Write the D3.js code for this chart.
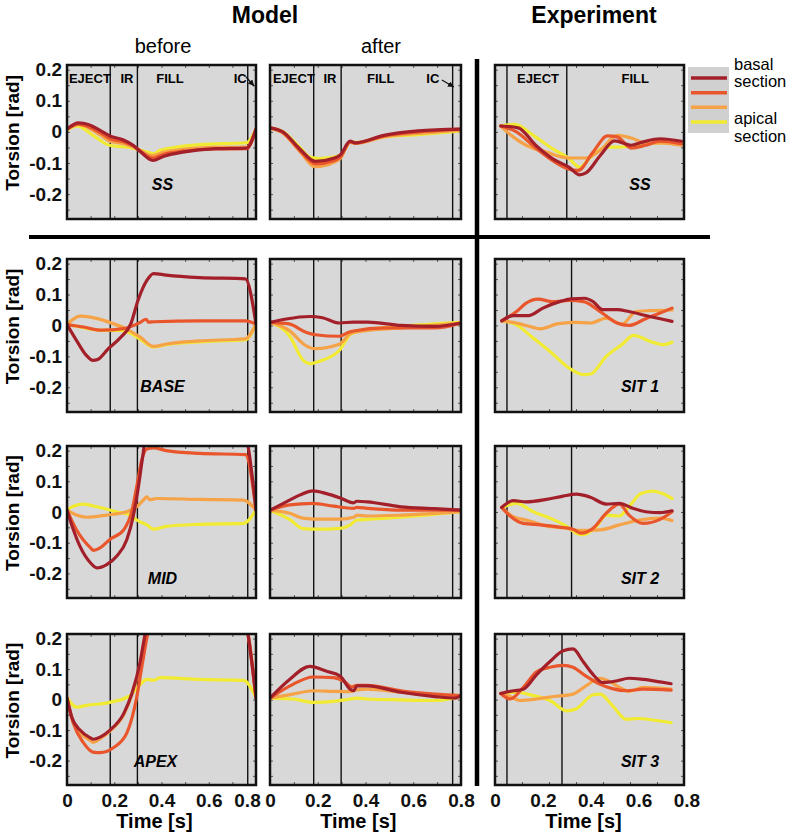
<!DOCTYPE html>
<html>
<head>
<meta charset="utf-8">
<script src="https://cdn.jsdelivr.net/npm/d3@7"></script>
<style>
  body { margin: 0; background: #fff; }
  svg { display: block; font-family: "Liberation Sans", Arial, sans-serif; }
</style>
</head>
<body>
<svg width="789" height="838"></svg>
<script>
// colours: basal -> apical
var sectionColors = ["#a3202a", "#e9562c", "#f6a247", "#f1ea33"];

// tick values / labels
var yTickValues = [0.2, 0.1, 0, -0.1, -0.2];
var xTickValues = [0, 0.2, 0.4, 0.6, 0.8];
var modelPhaseTimes = [0.183, 0.298, 0.765];
var expPhaseTimes = [[0.05, 0.30], [0.05, 0.32], [0.05, 0.32], [0.05, 0.28]];
var rowLabelsModel = ["SS", "BASE", "MID", "APEX"];
var rowLabelsExp = ["SS", "SIT 1", "SIT 2", "SIT 3"];

// [time s, torsion rad] per section: basal, mid-basal, mid-apical, apical
var ssBefore = [
  [[0,0.009],[0.048,0.029],[0.09,0.024],[0.14,0.005],[0.182,-0.013],[0.239,-0.026],[0.28,-0.043],[0.31,-0.063],[0.363,-0.092],[0.41,-0.078],[0.49,-0.065],[0.63,-0.054],[0.76,-0.052],[0.8,0.009]],
  [[0,0.009],[0.048,0.025],[0.14,-0.002],[0.182,-0.022],[0.24,-0.032],[0.28,-0.045],[0.31,-0.062],[0.363,-0.084],[0.41,-0.072],[0.49,-0.062],[0.63,-0.055],[0.76,-0.054],[0.8,0.009]],
  [[0,0.007],[0.048,0.024],[0.14,-0.009],[0.182,-0.03],[0.24,-0.038],[0.28,-0.049],[0.31,-0.06],[0.36,-0.076],[0.41,-0.065],[0.49,-0.056],[0.63,-0.05],[0.76,-0.049],[0.8,0.009]],
  [[0,0.005],[0.041,0.019],[0.11,-0.011],[0.18,-0.043],[0.28,-0.052],[0.34,-0.065],[0.37,-0.07],[0.39,-0.06],[0.56,-0.041],[0.76,-0.035],[0.8,0.009]]
];
var ssAfter = [
  [[0,0.013],[0.054,0],[0.124,-0.054],[0.19,-0.095],[0.27,-0.084],[0.294,-0.074],[0.336,-0.03],[0.357,-0.035],[0.477,-0.011],[0.62,0.003],[0.8,0.009]],
  [[0,0.013],[0.054,-0.002],[0.124,-0.059],[0.19,-0.103],[0.27,-0.092],[0.294,-0.081],[0.336,-0.032],[0.357,-0.036],[0.477,-0.013],[0.62,0],[0.8,0.009]],
  [[0,0.012],[0.054,-0.004],[0.124,-0.062],[0.19,-0.112],[0.27,-0.097],[0.294,-0.086],[0.336,-0.034],[0.357,-0.037],[0.477,-0.016],[0.62,-0.005],[0.8,0.006]],
  [[0,0.012],[0.054,0.001],[0.124,-0.049],[0.167,-0.081],[0.21,-0.086],[0.294,-0.076],[0.336,-0.032],[0.357,-0.034],[0.477,-0.016],[0.62,-0.009],[0.8,0.003]]
];
var ssExp = [
  [[0.024,0.019],[0.097,0.013],[0.17,-0.043],[0.24,-0.086],[0.31,-0.114],[0.354,-0.138],[0.38,-0.132],[0.44,-0.076],[0.5,-0.029],[0.57,-0.043],[0.62,-0.032],[0.69,-0.022],[0.78,-0.03]],
  [[0.024,0.019],[0.09,0],[0.17,-0.052],[0.24,-0.092],[0.305,-0.119],[0.347,-0.124],[0.41,-0.065],[0.47,-0.013],[0.51,-0.016],[0.57,-0.052],[0.63,-0.043],[0.69,-0.03],[0.78,-0.038]],
  [[0.024,0.019],[0.076,-0.016],[0.13,-0.043],[0.215,-0.065],[0.31,-0.084],[0.38,-0.084],[0.44,-0.059],[0.51,-0.011],[0.58,-0.022],[0.63,-0.038],[0.69,-0.035],[0.78,-0.043]],
  [[0.024,0.019],[0.083,0.024],[0.16,-0.011],[0.24,-0.054],[0.31,-0.086],[0.354,-0.114],[0.396,-0.084],[0.465,-0.049],[0.52,-0.049],[0.59,-0.043],[0.69,-0.035],[0.78,-0.035]]
];
var baseBefore = [
  [[0,0.003],[0.04,-0.048],[0.08,-0.095],[0.11,-0.113],[0.13,-0.11],[0.175,-0.075],[0.225,-0.04],[0.27,0.005],[0.3,0.08],[0.34,0.148],[0.366,0.168],[0.42,0.163],[0.56,0.155],[0.755,0.151],[0.8,0.005]],
  [[0,0.003],[0.07,-0.005],[0.14,-0.015],[0.24,-0.01],[0.31,0.01],[0.335,0.02],[0.345,0.011],[0.37,0.012],[0.56,0.015],[0.755,0.015],[0.8,0.005]],
  [[0,0.003],[0.055,0.03],[0.1,0.027],[0.18,0.01],[0.25,-0.011],[0.31,-0.038],[0.366,-0.068],[0.42,-0.06],[0.56,-0.05],[0.755,-0.043],[0.8,0.005]],
  [[0,0.003],[0.055,-0.005],[0.14,-0.016],[0.225,-0.016],[0.27,-0.025],[0.31,-0.045],[0.366,-0.07],[0.42,-0.062],[0.56,-0.053],[0.755,-0.046],[0.8,0.005]]
];
var baseAfter = [
  [[0,0.01],[0.068,0.021],[0.167,0.029],[0.22,0.025],[0.29,0.008],[0.35,0.011],[0.41,0.011],[0.55,0],[0.69,-0.003],[0.8,0.008]],
  [[0,0.01],[0.08,0.005],[0.15,-0.022],[0.19,-0.03],[0.29,-0.035],[0.33,-0.022],[0.35,-0.018],[0.48,-0.008],[0.69,-0.008],[0.8,0.008]],
  [[0,0.01],[0.08,-0.016],[0.15,-0.065],[0.19,-0.075],[0.29,-0.061],[0.34,-0.025],[0.41,-0.016],[0.55,-0.008],[0.8,0.008]],
  [[0,0.01],[0.08,-0.032],[0.14,-0.113],[0.167,-0.124],[0.21,-0.115],[0.29,-0.081],[0.34,-0.027],[0.41,-0.014],[0.55,-0.003],[0.8,0.01]]
];
var sit1 = [
  [[0.028,0.015],[0.076,0.032],[0.14,0.032],[0.2,0.056],[0.27,0.077],[0.32,0.086],[0.375,0.088],[0.41,0.077],[0.45,0.051],[0.51,0.051],[0.56,0.045],[0.63,0.032],[0.74,0.013]],
  [[0.028,0.015],[0.09,0.045],[0.13,0.072],[0.18,0.085],[0.24,0.077],[0.31,0.081],[0.37,0.077],[0.44,0.045],[0.51,0.008],[0.56,0],[0.63,0.022],[0.69,0.04],[0.74,0.056]],
  [[0.028,0.015],[0.076,0.01],[0.13,0],[0.19,-0.011],[0.26,0.005],[0.33,0.01],[0.4,0.008],[0.465,0.024],[0.53,0.004],[0.59,0.045],[0.65,0.048],[0.74,0.05]],
  [[0.028,0.015],[0.09,0.002],[0.16,-0.041],[0.23,-0.084],[0.31,-0.138],[0.37,-0.159],[0.4,-0.157],[0.465,-0.1],[0.53,-0.062],[0.58,-0.032],[0.65,-0.052],[0.7,-0.062],[0.74,-0.054]]
];
var midBefore = [
  [[0,0.006],[0.027,-0.058],[0.055,-0.112],[0.1,-0.166],[0.126,-0.182],[0.168,-0.171],[0.21,-0.144],[0.253,-0.09],[0.28,-0.015],[0.3,0.071],[0.32,0.178],[0.335,0.25],[0.5,0.3],[0.74,0.28],[0.765,0.22],[0.8,0.006]],
  [[0,0.006],[0.04,-0.058],[0.1,-0.117],[0.112,-0.125],[0.14,-0.117],[0.18,-0.09],[0.24,-0.058],[0.274,0.001],[0.295,0.082],[0.316,0.168],[0.338,0.205],[0.366,0.209],[0.42,0.2],[0.56,0.191],[0.755,0.187],[0.8,0.006]],
  [[0,0.006],[0.04,-0.01],[0.083,-0.017],[0.168,-0.01],[0.253,0.001],[0.295,0.017],[0.323,0.039],[0.338,0.049],[0.35,0.04],[0.38,0.044],[0.56,0.041],[0.747,0.039],[0.8,0.006]],
  [[0,0.006],[0.027,0.019],[0.07,0.026],[0.126,0.017],[0.21,0.001],[0.267,-0.01],[0.295,-0.026],[0.338,-0.042],[0.366,-0.056],[0.42,-0.047],[0.56,-0.04],[0.747,-0.037],[0.8,0.006]]
];
var midAfter = [
  [[0,0.006],[0.068,0.033],[0.124,0.055],[0.18,0.069],[0.237,0.06],[0.294,0.046],[0.35,0.03],[0.364,0.035],[0.407,0.033],[0.548,0.017],[0.69,0.011],[0.8,0.006]],
  [[0,0.006],[0.082,0.023],[0.18,0.028],[0.266,0.019],[0.35,0.012],[0.364,0.015],[0.407,0.012],[0.548,0.006],[0.8,0.006]],
  [[0,0.006],[0.082,-0.004],[0.138,-0.02],[0.195,-0.023],[0.294,-0.023],[0.35,-0.017],[0.364,-0.01],[0.407,-0.013],[0.548,-0.01],[0.8,0.001]],
  [[0,0.006],[0.082,-0.024],[0.138,-0.054],[0.195,-0.056],[0.294,-0.053],[0.336,-0.042],[0.364,-0.026],[0.407,-0.024],[0.548,-0.017],[0.8,0.001]]
];
var sit2 = [
  [[0.028,0.015],[0.076,0.037],[0.13,0.033],[0.215,0.041],[0.285,0.052],[0.34,0.058],[0.396,0.049],[0.465,0.026],[0.52,0.028],[0.576,0.012],[0.63,0.001],[0.69,-0.002],[0.74,0.004]],
  [[0.028,0.015],[0.063,-0.013],[0.118,-0.037],[0.19,-0.042],[0.27,-0.049],[0.326,-0.056],[0.36,-0.069],[0.41,-0.053],[0.465,-0.004],[0.52,0.026],[0.56,-0.01],[0.62,-0.037],[0.69,-0.024],[0.74,0.001]],
  [[0.028,0.015],[0.076,-0.015],[0.13,-0.026],[0.215,-0.045],[0.3,-0.053],[0.354,-0.06],[0.44,-0.058],[0.52,-0.042],[0.604,-0.026],[0.69,-0.02],[0.74,-0.028]],
  [[0.028,0.015],[0.09,0.028],[0.16,0.001],[0.23,-0.02],[0.3,-0.047],[0.34,-0.069],[0.37,-0.074],[0.424,-0.047],[0.465,-0.01],[0.52,-0.013],[0.56,0.017],[0.61,0.06],[0.66,0.068],[0.7,0.06],[0.74,0.044]]
];
var apexBefore = [
  [[0,0.005],[0.02,-0.057],[0.055,-0.1],[0.1,-0.126],[0.11,-0.13],[0.14,-0.123],[0.182,-0.1],[0.24,-0.046],[0.274,0.018],[0.31,0.125],[0.325,0.19],[0.34,0.25],[0.5,0.3],[0.75,0.28],[0.765,0.22],[0.8,0.005]],
  [[0,0.005],[0.027,-0.078],[0.07,-0.142],[0.11,-0.172],[0.14,-0.174],[0.196,-0.158],[0.253,-0.11],[0.295,0.007],[0.323,0.136],[0.345,0.22],[0.5,0.3],[0.75,0.28],[0.765,0.22],[0.8,0.005]],
  [[0,0.005],[0.02,-0.06],[0.055,-0.108],[0.1,-0.135],[0.11,-0.14],[0.14,-0.128],[0.182,-0.103],[0.24,-0.05],[0.274,0.015],[0.31,0.12],[0.325,0.19],[0.34,0.24],[0.5,0.3],[0.75,0.26],[0.77,0.2],[0.8,0.005]],
  [[0,0.007],[0.041,-0.025],[0.083,-0.019],[0.182,-0.009],[0.267,0.013],[0.31,0.05],[0.338,0.066],[0.366,0.063],[0.394,0.072],[0.56,0.066],[0.747,0.063],[0.8,0.007]]
];
var apexAfter = [
  [[0,0.005],[0.082,0.066],[0.167,0.109],[0.237,0.093],[0.294,0.077],[0.336,0.034],[0.35,0.029],[0.364,0.045],[0.407,0.045],[0.548,0.024],[0.69,0.01],[0.774,0.005],[0.8,0.013]],
  [[0,0.005],[0.096,0.05],[0.18,0.074],[0.266,0.072],[0.308,0.061],[0.343,0.042],[0.364,0.047],[0.407,0.047],[0.548,0.029],[0.69,0.018],[0.8,0.013]],
  [[0,0.005],[0.096,0.018],[0.18,0.029],[0.266,0.027],[0.336,0.026],[0.364,0.032],[0.407,0.034],[0.548,0.024],[0.69,0.015],[0.8,0.013]],
  [[0,0.005],[0.096,0.002],[0.18,-0.009],[0.266,-0.006],[0.336,0.002],[0.364,0.005],[0.407,0.002],[0.548,-0.001],[0.69,-0.003],[0.8,0.01]]
];
var sit3 = [
  [[0.024,0.02],[0.063,0.027],[0.118,0.034],[0.174,0.082],[0.23,0.125],[0.285,0.16],[0.326,0.166],[0.368,0.125],[0.41,0.082],[0.45,0.056],[0.507,0.061],[0.56,0.07],[0.62,0.066],[0.69,0.058],[0.736,0.052]],
  [[0.024,0.02],[0.063,0.002],[0.118,0.04],[0.174,0.091],[0.23,0.106],[0.285,0.112],[0.326,0.106],[0.38,0.077],[0.44,0.05],[0.49,0.036],[0.55,0.029],[0.62,0.034],[0.736,0.031]],
  [[0.024,0.02],[0.063,0.01],[0.104,-0.003],[0.174,0.002],[0.243,0.01],[0.326,0.018],[0.38,0.045],[0.44,0.07],[0.47,0.063],[0.52,0.04],[0.56,0.027],[0.62,0.04],[0.736,0.034]],
  [[0.024,0.02],[0.09,0.024],[0.16,0.013],[0.23,-0.003],[0.3,-0.037],[0.34,-0.03],[0.41,0.016],[0.44,0.018],[0.49,-0.019],[0.55,-0.065],[0.6,-0.062],[0.66,-0.067],[0.736,-0.076]]
];

var svg = d3.select("svg");

// layout
var cols = [ {x0: 67, x1: 256, max: 0.8}, {x0: 270, x1: 461, max: 0.8}, {x0: 495, x1: 684, max: 0.79} ];
var rows = [ {y0: 65, y1: 219}, {y0: 259, y1: 412}, {y0: 446, y1: 598}, {y0: 634, y1: 785} ];
var labelDrop = [125, 133, 138, 133];
var grid = [
  [ssBefore, ssAfter, ssExp],
  [baseBefore, baseAfter, sit1],
  [midBefore, midAfter, sit2],
  [apexBefore, apexAfter, sit3]
];

var defs = svg.append("defs");
defs.append("marker")
    .attr("id", "arrow")
    .attr("markerUnits", "userSpaceOnUse")
    .attr("markerWidth", 7).attr("markerHeight", 7)
    .attr("refX", 6).attr("refY", 3)
    .attr("orient", "auto")
  .append("path")
    .attr("d", "M0,0 L6,3 L0,6 Z")
    .attr("fill", "#111");

var fmt = function(d) { return String(d); };

grid.forEach(function(rowData, ri) {
  var r = rows[ri];
  var y = d3.scaleLinear().domain([-0.28, 0.215]).range([r.y1, r.y0]);

  rowData.forEach(function(series, ci) {
    var c = cols[ci];
    var x = d3.scaleLinear().domain([0, c.max]).range([c.x0, c.x1]);
    var g = svg.append("g");
    var clipId = "clip" + ri + "_" + ci;

    defs.append("clipPath").attr("id", clipId)
      .append("rect")
      .attr("x", c.x0).attr("y", r.y0)
      .attr("width", c.x1 - c.x0).attr("height", r.y1 - r.y0);

    g.append("rect")
      .attr("x", c.x0).attr("y", r.y0)
      .attr("width", c.x1 - c.x0).attr("height", r.y1 - r.y0)
      .attr("fill", "#d8d8d8");

    // inner tick marks on all four sides
    var tickX = ci == 2 ? d3.scaleLinear().domain([0, 0.7]).range([c.x0, c.x1]) : x;
    var yt = d3.range(-0.25, 0.21, 0.05);
    var xt = d3.range(0.1, ci == 2 ? 0.65 : 0.75, 0.1);
    [[d3.axisLeft(y), c.x0], [d3.axisRight(y), c.x1]].forEach(function(a) {
      g.append("g").attr("transform", "translate(" + a[1] + ",0)")
        .call(a[0].tickValues(yt).tickSize(-3).tickFormat(""))
        .call(function(s) { s.select(".domain").remove(); s.selectAll("line").attr("stroke", "#555"); });
    });
    [[d3.axisTop(tickX), r.y0], [d3.axisBottom(tickX), r.y1]].forEach(function(a) {
      g.append("g").attr("transform", "translate(0," + a[1] + ")")
        .call(a[0].tickValues(xt).tickSize(-3).tickFormat(""))
        .call(function(s) { s.select(".domain").remove(); s.selectAll("line").attr("stroke", "#555"); });
    });

    // phase boundaries
    var phases = ci == 2 ? expPhaseTimes[ri] : modelPhaseTimes;
    g.selectAll(".phase").data(phases).enter().append("line")
      .attr("x1", function(d) { return x(d); }).attr("x2", function(d) { return x(d); })
      .attr("y1", r.y0).attr("y2", r.y1)
      .attr("stroke", "#111").attr("stroke-width", 1.4);

    var line = d3.line()
      .x(function(d) { return x(d[0]); })
      .y(function(d) { return y(d[1]); })
      .curve(d3.curveMonotoneX);

    g.append("g").attr("clip-path", "url(#" + clipId + ")")
      .selectAll("path").data(series.slice().reverse()).enter().append("path")
      .attr("d", line)
      .attr("fill", "none")
      .attr("stroke", function(d, i) { return sectionColors[3 - i]; })
      .attr("stroke-width", 3.2)
      .attr("stroke-linejoin", "round")
      .attr("stroke-linecap", "round");

    g.append("rect")
      .attr("x", c.x0).attr("y", r.y0)
      .attr("width", c.x1 - c.x0).attr("height", r.y1 - r.y0)
      .attr("fill", "none").attr("stroke", "#111").attr("stroke-width", 2.5);

    // condition label (not on the "after" column)
    if (ci != 1) {
      g.append("text")
        .attr("x", ci == 2 ? 640 : (c.x0 + c.x1) / 2 + (ri == 3 ? -6 : 1))
        .attr("y", r.y0 + labelDrop[ri])
        .attr("text-anchor", "middle")
        .attr("font-size", 16).attr("font-weight", "bold").attr("font-style", "italic")
        .text(ci == 2 ? rowLabelsExp[ri] : rowLabelsModel[ri]);
    }

    // phase names on the top row
    if (ri == 0) {
      var names = ci == 2 ? [["EJECT", 0.18], ["FILL", 0.586]]
        : ci == 0 ? [["EJECT", 0.097], ["IR", 0.254], ["FILL", 0.436], ["IC", 0.733]]
        : [["EJECT", 0.1], ["IR", 0.251], ["FILL", 0.464], ["IC", 0.682]];
      names.forEach(function(n) {
        g.append("text")
          .attr("x", x(n[1])).attr("y", r.y0 + 18)
          .attr("text-anchor", "middle")
          .attr("font-size", 13).attr("font-weight", "bold")
          .text(n[0]);
      });
      if (ci < 2) {
        var a = ci == 0 ? [0.758, 12, 0.792, 21] : [0.72, 15, 0.77, 22];
        g.append("line")
          .attr("x1", x(a[0])).attr("y1", r.y0 + a[1])
          .attr("x2", x(a[2])).attr("y2", r.y0 + a[3])
          .attr("stroke", "#111").attr("stroke-width", 1.2)
          .attr("marker-end", "url(#arrow)");
      }
    }

    // x axis labels on the last row
    if (ri == 3) {
      g.append("g").attr("transform", "translate(0," + r.y1 + ")")
        .call(d3.axisBottom(x).tickValues(xTickValues).tickSize(0).tickPadding(9).tickFormat(fmt))
        .call(function(s) {
          s.select(".domain").remove();
          s.selectAll("text").attr("font-size", 19).attr("font-weight", "bold")
            .attr("font-family", "Liberation Sans, Arial, sans-serif").attr("fill", "#111");
          if (ci == 0) s.selectAll("text").filter(function(d) { return d == 0.8; }).attr("dx", -9);
        });
      g.append("text")
        .attr("x", x(0.37)).attr("y", 828)
        .attr("text-anchor", "middle")
        .attr("font-size", 20).attr("font-weight", "bold")
        .text("Time [s]");
    }

    // y axis on the first column
    if (ci == 0) {
      g.append("g").attr("transform", "translate(" + c.x0 + ",0)")
        .call(d3.axisLeft(y).tickValues(yTickValues).tickSize(0).tickPadding(5).tickFormat(fmt))
        .call(function(s) {
          s.select(".domain").remove();
          s.selectAll("text").attr("font-size", 19).attr("font-weight", "bold")
            .attr("font-family", "Liberation Sans, Arial, sans-serif").attr("fill", "#111");
        });
      g.append("text")
        .attr("transform", "translate(19," + (y(0) + 1) + ") rotate(-90)")
        .attr("text-anchor", "middle")
        .attr("font-size", 19).attr("font-weight", "bold")
        .text("Torsion [rad]");
    }
  });
});

// separators between model / experiment and steady state / perturbations
svg.append("line").attr("x1", 477).attr("x2", 477).attr("y1", 59).attr("y2", 786)
  .attr("stroke", "#000").attr("stroke-width", 4.5);
svg.append("line").attr("x1", 29).attr("x2", 710).attr("y1", 237).attr("y2", 237)
  .attr("stroke", "#000").attr("stroke-width", 4);

// headings
svg.append("text").attr("x", 265).attr("y", 23).attr("text-anchor", "middle")
  .attr("font-size", 23).attr("font-weight", "bold").text("Model");
svg.append("text").attr("x", 594).attr("y", 23).attr("text-anchor", "middle")
  .attr("font-size", 23).attr("font-weight", "bold").text("Experiment");
svg.append("text").attr("x", 163).attr("y", 53).attr("text-anchor", "middle")
  .attr("font-size", 20).text("before");
svg.append("text").attr("x", 381).attr("y", 53).attr("text-anchor", "middle")
  .attr("font-size", 20).text("after");

// legend
var legend = svg.append("g");
legend.append("rect").attr("x", 688).attr("y", 67).attr("width", 41).attr("height", 66)
  .attr("fill", "#d0d0d0");
var ly = d3.scalePoint().domain(d3.range(4)).range([78, 122]);
legend.selectAll("line").data(sectionColors).enter().append("line")
  .attr("x1", 691).attr("x2", 727)
  .attr("y1", function(d, i) { return ly(i); }).attr("y2", function(d, i) { return ly(i); })
  .attr("stroke", function(d) { return d; }).attr("stroke-width", 3.5);
[["basal", 70], ["section", 87], ["apical", 124], ["section", 142]].forEach(function(t) {
  legend.append("text").attr("x", 734).attr("y", t[1])
    .attr("font-size", 16.5).text(t[0]);
});
</script>
</body>
</html>
